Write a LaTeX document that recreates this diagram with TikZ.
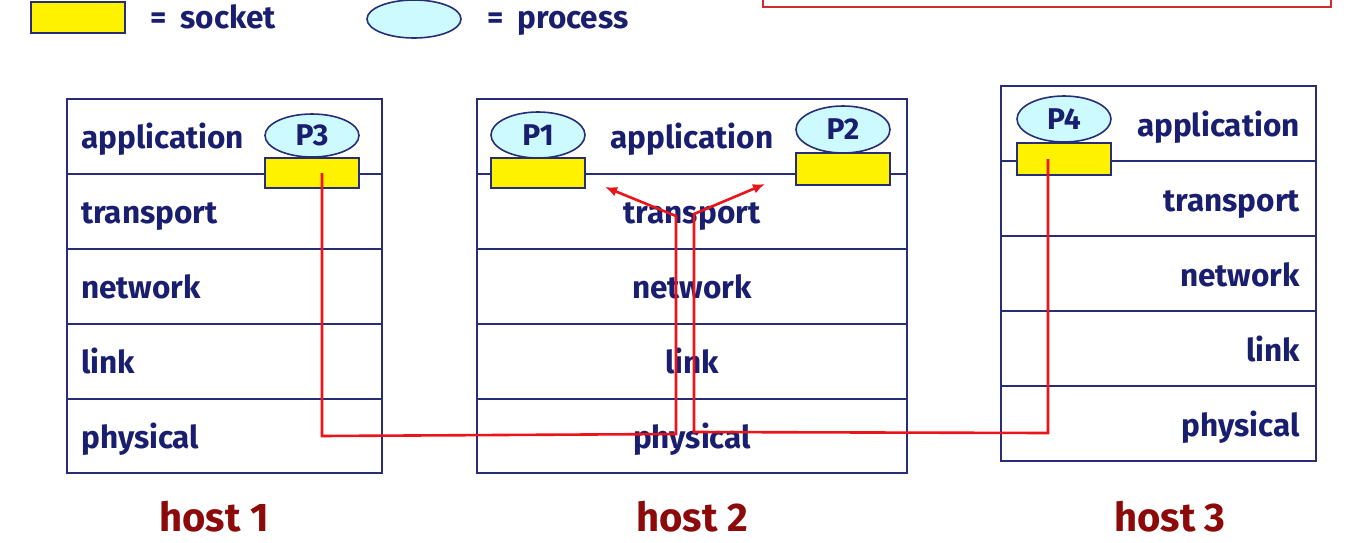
\documentclass[tikz,border=0pt]{standalone}
\usepackage{fontspec}
\setmainfont{Fira Sans}
\usetikzlibrary{shapes.geometric,arrows.meta}
\definecolor{navy}{RGB}{25,30,110}
\definecolor{boxline}{RGB}{40,45,120}
\definecolor{proc}{RGB}{204,250,255}
\definecolor{hostred}{RGB}{140,10,10}
\definecolor{pathred}{RGB}{235,20,25}
\definecolor{framered}{RGB}{205,45,45}

\begin{document}
\begin{tikzpicture}[x=1pt,y=-1pt,
  layer/.style={font=\fontsize{31.5}{33}\selectfont\bfseries, text=navy, inner sep=0},
  socket/.style={draw=boxline, fill=yellow, line width=2pt, minimum width=94pt, minimum height=30pt, inner sep=0},
  process/.style={ellipse, draw=boxline, fill=proc, line width=1.6pt, minimum width=94pt, minimum height=45pt, inner sep=0, font=\fontsize{30}{32}\selectfont\bfseries, text=navy},
  hostlabel/.style={font=\fontsize{40}{42}\selectfont\bfseries, text=hostred, inner sep=0},
  stack/.style={draw=boxline, line width=2pt},
  route/.style={draw=pathred, line width=2.6pt}]
\useasboundingbox (0,0) rectangle (1361,542);
\clip (0,0) rectangle (1361,542);

% legend
\node[socket, minimum height=31pt] (legsock) at (78,17.5) {};
\node[layer, anchor=base west] (legsocktxt) at (150,28) {=\hspace{14pt}socket};
\node[process, minimum height=38pt] (legproc) at (414,19) {};
\node[layer, anchor=base west] (legproctxt) at (487,28) {=\hspace{14pt}process};
\draw[framered, line width=2.4pt] (763,-20) rectangle (1331,7);

% host 1
\draw[stack] (67,99) rectangle (382,473);
\foreach \r in {1,...,4} \draw[stack] (67,99+75*\r) -- (382,99+75*\r);
\foreach \t [count=\i from 0] in {application,transport,network,link,physical}
  \node[layer, anchor=base west] (h1\t) at (81,148+75*\i) {\t};

% host 2
\draw[stack] (477,99) rectangle (907,473);
\foreach \r in {1,...,4} \draw[stack] (477,99+75*\r) -- (907,99+75*\r);
\foreach \t [count=\i from 0] in {application,transport,network,link,physical}
  \node[layer, anchor=base] (h2\t) at (692,148+75*\i) {\t};

% host 3
\draw[stack] (1001,86) rectangle (1316,461);
\foreach \r in {1,...,4} \draw[stack] (1001,86+75*\r) -- (1316,86+75*\r);
\foreach \t [count=\i from 0] in {application,transport,network,link,physical}
  \node[layer, anchor=base east] (h3\t) at (1300,136+75*\i) {\t};

% processes and sockets
\node[socket] (s3) at (312,173) {};
\node[process, minimum height=43pt] (p3) at (312,135.5) {P3};
\node[socket] (s1) at (538,173) {};
\node[process, minimum height=46pt] (p1) at (538,135) {P1};
\node[socket, minimum height=32pt] (s2) at (843,169) {};
\node[process, minimum height=47pt] (p2) at (843,129.5) {P2};
\node[socket, minimum height=32pt] (s4) at (1064,159) {};
\node[process, minimum height=46pt] (p4) at (1064,119) {P4};

% host labels
\node[hostlabel, anchor=base] (host1) at (214,531) {host 1};
\node[hostlabel, anchor=base] (host2) at (692,531) {host 2};
\node[hostlabel, anchor=base] (host3) at (1170,531) {host 3};

% routes
\coordinate (a1) at (322,436);
\coordinate (a2) at (676,434);
\coordinate (a3) at (676,216);
\coordinate (a4) at (605,187);
\coordinate (b1) at (1048,433);
\coordinate (b2) at (694,432);
\coordinate (b3) at (694,214);
\coordinate (b4) at (765,184);
\draw[route, -{Latex[length=12pt,width=10pt]}] ([xshift=10pt]s3.center) -- (a1) -- (a2) -- (a3) -- (a4);
\draw[route, -{Latex[length=12pt,width=10pt]}] ([xshift=-16pt]s4.center) -- (b1) -- (b2) -- (b3) -- (b4);
\end{tikzpicture}
\end{document}
